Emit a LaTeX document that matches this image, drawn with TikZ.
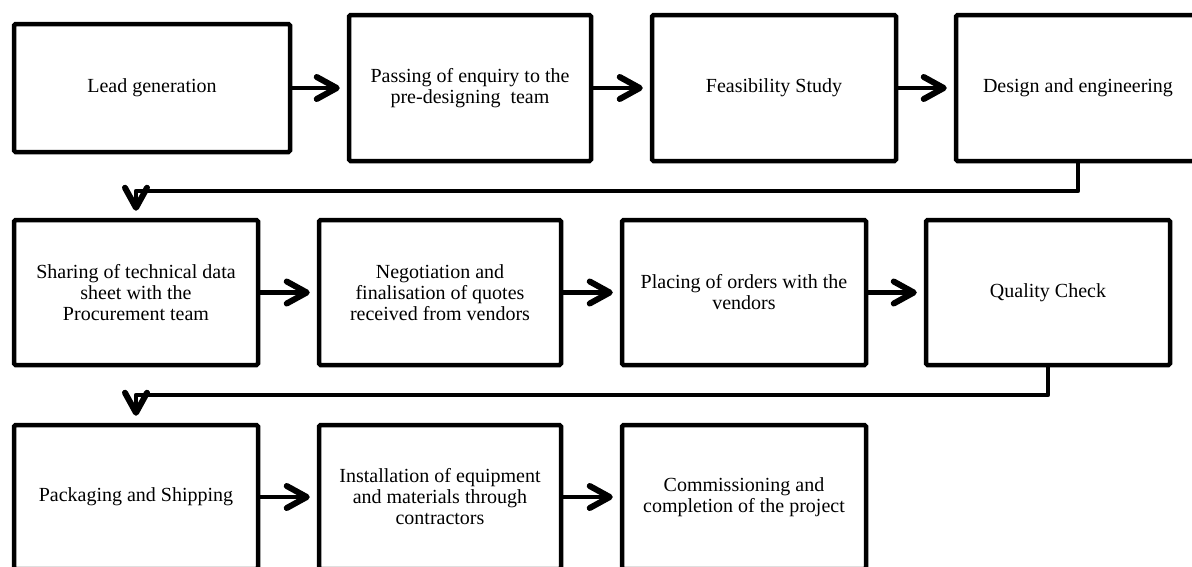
\documentclass[tikz,border=0pt]{standalone}
\usepackage{fontspec}
\setmainfont{Liberation Serif}
\usetikzlibrary{arrows.meta}
\begin{document}
\begin{tikzpicture}[x=1pt,y=-1pt,
  box/.style={draw=black, line width=4.5pt, rounded corners=1.5pt, align=center,
    inner sep=2pt, font=\fontsize{20}{21}\selectfont},
  arr/.style={line width=4.5pt, line join=round,
    -{Straight Barb[length=20pt,width=22pt,line width=6pt,line cap=round,line join=round]},
    shorten >=7pt}]
\useasboundingbox (0,0) rectangle (1192,566);
\fill[white] (0,0) rectangle (1192,566);
\clip (0,0) rectangle (1192,566);
% row 1
\node[box, minimum width=276pt, minimum height=128pt] (a1) at (152,88) {Lead generation};
\node[box, minimum width=242pt, minimum height=146pt] (a2) at (470,88) {Passing of enquiry to the\\pre-designing\ \ team};
\node[box, minimum width=244pt, minimum height=146pt] (a3) at (774,88) {Feasibility Study};
\node[box, minimum width=244pt, minimum height=146pt] (a4) at (1078,88) {Design and engineering};
% row 2
\node[box, minimum width=244pt, minimum height=145pt] (b1) at (136,292.5) {Sharing of technical data\\sheet with the\\Procurement team};
\node[box, minimum width=242pt, minimum height=145pt] (b2) at (440,292.5) {Negotiation and\\finalisation of quotes\\received from vendors};
\node[box, minimum width=244pt, minimum height=145pt] (b3) at (744,292.5) {Placing of orders with the\\vendors};
\node[box, minimum width=244pt, minimum height=145pt] (b4) at (1048,292.5) {Quality Check};
% row 3
\node[box, minimum width=244pt, minimum height=144pt] (c1) at (136,497) {Packaging and Shipping};
\node[box, minimum width=242pt, minimum height=144pt] (c2) at (440,497) {Installation of equipment\\and materials through\\contractors};
\node[box, minimum width=244pt, minimum height=144pt] (c3) at (744,497) {Commissioning and\\completion of the project};
% turn points
\coordinate (t1) at (0,191);
\coordinate (t2) at (0,395);
% connectors
\draw[arr] (a1) -- (a2);
\draw[arr] (a2) -- (a3);
\draw[arr] (a3) -- (a4);
\draw[arr] (a4.south) -- (a4.south |- t1) -| (b1.north);
\draw[arr] (b1) -- (b2);
\draw[arr] (b2) -- (b3);
\draw[arr] (b3) -- (b4);
\draw[arr] (b4.south) -- (b4.south |- t2) -| (c1.north);
\draw[arr] (c1) -- (c2);
\draw[arr] (c2) -- (c3);
\end{tikzpicture}
\end{document}
